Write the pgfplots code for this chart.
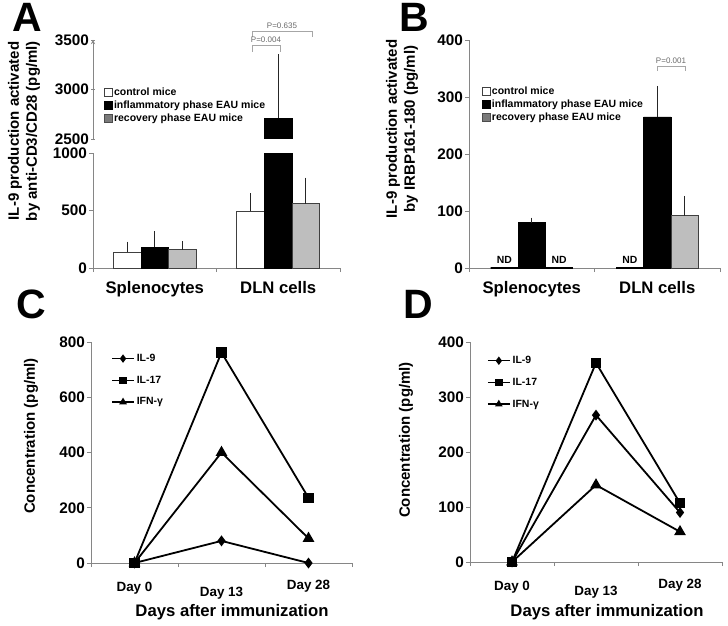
\documentclass[border=0pt]{standalone}
\usepackage{pgfplots}
\pgfplotsset{compat=1.18}
\usepackage{fontspec}
\setmainfont{Liberation Sans}
\newcommand\fs[1]{\fontsize{#1}{#1}\selectfont}
\definecolor{axgray}{HTML}{868686}
\definecolor{bargray}{HTML}{BEBEBE}
\definecolor{leggray}{HTML}{7A7A7A}
\definecolor{pgray}{HTML}{6A6A6A}
\pgfplotsset{
  base/.style={
    scale only axis, anchor=south west,
    axis lines=left, axis line style={-, axgray, line width=0.9pt},
    tick align=outside, major tick length=4pt, minor tick length=4pt,
    tick style={axgray, line width=0.9pt},
    /pgf/number format/assume math mode=true,
    /pgf/number format/1000 sep={},
    yticklabel style={font=\fs{15.3}\bfseries, text=black, inner sep=2pt},
  },
  barx/.style={
    xmin=-0.5, xmax=1.5, xtick={0,1}, xticklabels={Splenocytes,DLN cells},
    minor xtick={-0.5,0.5,1.5}, major x tick style={draw=none},
    xticklabel style={font=\fs{16.7}\bfseries, anchor=base, yshift=-21pt},
  },
  linex/.style={
    xmin=-0.5, xmax=2.5, xtick={0,1,2},
    xticklabels={Day 0,\lower5pt\hbox{Day 13},\raise2pt\hbox{Day 28}},
    minor xtick={-0.5,0.5,1.5,2.5}, major x tick style={draw=none},
    xticklabel style={font=\fs{13.4}\bfseries, anchor=base, yshift=-24pt},
    clip=false,
    legend style={draw=none, fill=none, anchor=north west, font=\fs{10.5}\bfseries,
      row sep=9pt, inner sep=0pt},
    legend cell align=left,
    legend image code/.code={\draw[##1,mark repeat=2,mark phase=2,line width=1.5pt,mark size=3pt]
      plot coordinates {(0pt,0pt) (11pt,0pt) (22pt,0pt)};},
  },
  barleg/.style={
    legend style={draw=none, fill=none, anchor=north west, font=\fs{10.5}\bfseries,
      row sep=1.8pt, inner sep=0pt, nodes={inner sep=1pt}},
    legend cell align=left,
    legend image code/.code={\draw[##1] (0pt,-4pt) rectangle (8pt,4pt);},
  },
  eb/.style={error bars/.cd, y dir=plus, y explicit,
    error bar style={line width=1pt, black!85},
    error mark options={line width=1pt, mark size=2.5pt, black!85}},
  ln/.style={black, line width=1.8pt, mark options={solid}},
}
\begin{document}
\begin{tikzpicture}[x=1pt,y=1pt]

% ---------------- Panel A (upper part, broken axis) ----------------
\begin{axis}[base, barleg, at={(93pt,486pt)}, anchor=south west, width=247pt, height=99pt,
  xmin=-0.5, xmax=1.5, ymin=2500, ymax=3500, ytick={2500,3000,3500},
  axis x line=none, axis y line=left,
  legend style={at={(0.045,0.525)}}]
\addlegendimage{fill=white, draw=black!75, line width=0.7pt}
\addlegendentry{control mice}
\addlegendimage{fill=black, draw=black}
\addlegendentry{inflammatory phase EAU mice}
\addlegendimage{fill=leggray, draw=black!70, line width=0.7pt}
\addlegendentry{recovery phase EAU mice}
\addplot[forget plot, ybar, bar width=0.224, bar shift=0pt, fill=black, draw=black, eb]
  coordinates {(1,2710) +- (0,620)};
\end{axis}

% ---------------- Panel A (lower part) ----------------
\begin{axis}[base, barx, at={(93pt,357pt)}, anchor=south west, width=247pt, height=115pt,
  ymin=0, ymax=1000, ytick={0,500,1000}]
\addplot[ybar, bar width=0.224, bar shift=0pt, fill=white, draw=black!75, line width=0.8pt, eb]
  coordinates {(-0.224,140) +- (0,68) (0.776,495) +- (0,135)};
\addplot[ybar, bar width=0.224, bar shift=0pt, fill=black, draw=black, eb]
  coordinates {(0,185) +- (0,111)};
\addplot[ybar, bar width=0.224, bar shift=0pt, fill=black, draw=black]
  coordinates {(1,2710)};
\addplot[ybar, bar width=0.224, bar shift=0pt, fill=bargray, draw=black!75, line width=0.8pt, eb]
  coordinates {(0.224,160) +- (0,51) (1.224,560) +- (0,205)};
\end{axis}

% ---------------- Panel B ----------------
\begin{axis}[base, barx, barleg, at={(469pt,357pt)}, anchor=south west, width=251pt, height=228pt,
  ymin=0, ymax=400, ytick={0,100,...,400},
  legend style={at={(0.052,0.80)}},
  clip=false]
\addlegendimage{fill=white, draw=black!75, line width=0.7pt}
\addlegendentry{control mice}
\addlegendimage{fill=black, draw=black}
\addlegendentry{inflammatory phase EAU mice}
\addlegendimage{fill=leggray, draw=black!70, line width=0.7pt}
\addlegendentry{recovery phase EAU mice}
\addplot[forget plot, ybar, bar width=0.219, bar shift=0pt, fill=white, draw=black, line width=1.6pt,
  nodes near coords={ND}, every node near coord/.append style={font=\fs{10.4}\bfseries, anchor=south, yshift=0pt}]
  coordinates {(-0.219,0) (0.781,0)};
\addplot[forget plot, ybar, bar width=0.219, bar shift=0pt, fill=black, draw=black, eb]
  coordinates {(0,80) +- (0,4) (1,265) +- (0,50)};
\addplot[forget plot, ybar, bar width=0.219, bar shift=0pt, fill=bargray, draw=black, line width=1.6pt,
  nodes near coords={ND}, every node near coord/.append style={font=\fs{10.4}\bfseries, anchor=south, yshift=0pt}]
  coordinates {(0.219,0)};
\addplot[forget plot, ybar, bar width=0.219, bar shift=0pt, fill=bargray, draw=black!75, line width=0.8pt, eb]
  coordinates {(1.219,92) +- (0,30)};
\end{axis}

% ---------------- Panel C ----------------
\begin{axis}[base, linex, at={(91pt,62pt)}, anchor=south west, width=261pt, height=221pt,
  ymin=0, ymax=800, ytick={0,200,...,800},
  legend style={at={(0.077,0.955)}}]
\addplot[ln, mark=diamond*, mark size=4pt] coordinates {(0,0) (1,80) (2,0)};
\addlegendentry{IL-9}
\addplot[ln, mark=square*, mark size=4.3pt] coordinates {(0,0) (1,762) (2,236)};
\addlegendentry{IL-17}
\addplot[ln, mark=triangle*, mark size=5pt] coordinates {(0,0) (1,400) (2,89)};
\addlegendentry{IFN-γ}
\end{axis}

% ---------------- Panel D ----------------
\begin{axis}[base, linex, at={(470pt,63pt)}, anchor=south west, width=252pt, height=220pt,
  ymin=0, ymax=400, ytick={0,100,...,400},
  legend style={at={(0.067,0.945)}}]
\addplot[ln, mark=diamond*, mark size=4pt] coordinates {(0,0) (1,267) (2,90)};
\addlegendentry{IL-9}
\addplot[ln, mark=square*, mark size=4.3pt] coordinates {(0,0) (1,362) (2,107)};
\addlegendentry{IL-17}
\addplot[ln, mark=triangle*, mark size=5pt] coordinates {(0,0) (1,140) (2,55)};
\addlegendentry{IFN-γ}
\end{axis}

% ---------------- annotations ----------------
\begin{scope}[draw=black!35, line width=0.7pt]
\draw (252,588) -- (252,594) -- (312,594) -- (312,588);
\draw (252,573) -- (252,580) -- (280,580) -- (280,573);
\draw (657,554) -- (657,559) -- (685,559) -- (685,554);
\end{scope}
\node[font=\fs{8}, text=pgray, anchor=base, inner sep=0pt] at (282,596) {P=0.635};
\node[font=\fs{8}, text=pgray, anchor=base, inner sep=0pt] at (266,582) {P=0.004};
\node[font=\fs{8}, text=pgray, anchor=base, inner sep=0pt] at (671,561) {P=0.001};

\node[font=\fs{41}\bfseries, inner sep=0pt, anchor=base] at (27,593) {A};
\node[font=\fs{41}\bfseries, inner sep=0pt, anchor=base] at (414,593) {B};
\node[font=\fs{41}\bfseries, inner sep=0pt, anchor=base] at (31,307) {C};
\node[font=\fs{41}\bfseries, inner sep=0pt, anchor=base] at (418,307) {D};

\node[rotate=90, align=center, font=\fontsize{15}{18}\selectfont\bfseries] at (24,494)
  {IL-9 production activated\\by anti-CD3/CD28 (pg/ml)};
\node[rotate=90, align=center, font=\fontsize{15}{18}\selectfont\bfseries] at (402,496)
  {IL-9 production activated\\by IRBP161-180 (pg/ml)};
\node[rotate=90, font=\fs{15}\bfseries] at (31,189) {Concentration (pg/ml)};
\node[rotate=90, font=\fs{15}\bfseries] at (406,185) {Concentration (pg/ml)};
\node[font=\fs{16.7}\bfseries] at (232,13) {Days after immunization};
\node[font=\fs{16.7}\bfseries] at (607,13) {Days after immunization};

\pgfresetboundingbox
\path[use as bounding box] (0,0) rectangle (728,625);
\end{tikzpicture}
\end{document}
